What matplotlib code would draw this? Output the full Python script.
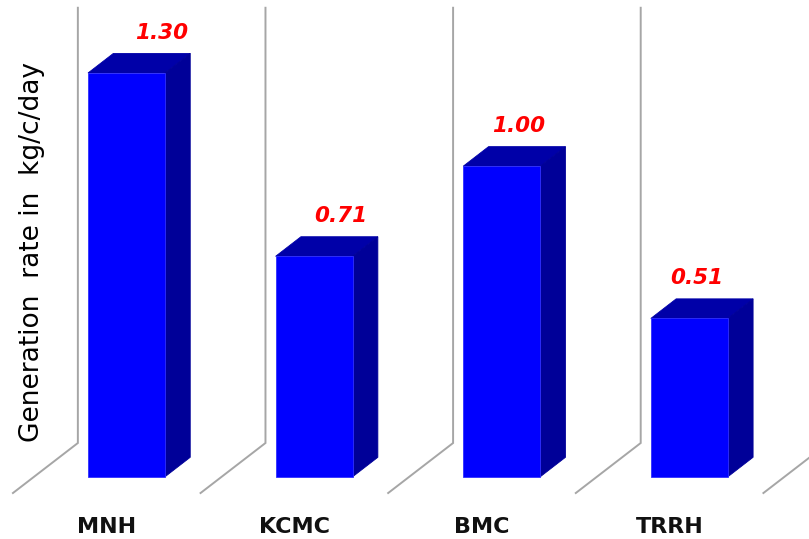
import numpy as np
import matplotlib.pyplot as plt
from matplotlib.patches import Polygon

hospitals = ['MNH', 'KCMC', 'BMC', 'TRRH']
rates = [1.30, 0.71, 1.00, 0.51]

# fake 3D: depth offset of the bars and the floor
depth_dx = 0.135
depth_dy = 0.063
bar_w = 0.41
front_col = '#0000ff'
top_col = '#0000a8'
side_col = '#000098'
grid_col = '#a6a6a6'

fig = plt.figure(figsize=(8.09, 5.39), dpi=100)
ax = fig.add_axes([0, 0, 1, 1])
ax.set_xlim(-0.674, 3.638)
ax.set_ylim(-0.200, 1.535)
ax.axis('off')

x = np.arange(len(hospitals))

# wall lines between categories, bending forward at the floor
for g in np.arange(len(hospitals) + 1) - 0.259:
    ax.plot([g, g, g - 0.346], [1.51, 0.109, -0.052],
            color=grid_col, lw=1.4, solid_joinstyle='miter', zorder=1)

bars = ax.bar(x, rates, width=bar_w, color=front_col,
              edgecolor='#3030ff', linewidth=0.6, zorder=3)

for i, (b, v) in enumerate(zip(bars, rates)):
    x0 = b.get_x()
    x1 = x0 + b.get_width()
    top = [(x0, v), (x0 + depth_dx, v + depth_dy),
           (x1 + depth_dx, v + depth_dy), (x1, v)]
    side = [(x1, 0), (x1, v), (x1 + depth_dx, v + depth_dy),
            (x1 + depth_dx, depth_dy)]
    ax.add_patch(Polygon(top, closed=True, fc=top_col, ec=top_col, lw=0.6, zorder=2))
    ax.add_patch(Polygon(side, closed=True, fc=side_col, ec=side_col, lw=0.6, zorder=2))
    ax.text(i + 0.19 - 0.05 * i, v + 0.13, f'{v:.2f}', color='#ff0000',
            fontsize=15.5, fontweight='bold', fontstyle='italic',
            ha='center', va='center', zorder=4)
    ax.text(i - 0.105, -0.161, hospitals[i], fontsize=16, fontweight='bold',
            ha='center', va='center', color='#111111')

ax.text(-0.505, 0.723, 'Generation  rate in  kg/c/day', rotation=90,
        fontsize=19, ha='center', va='center', color='#000000')

fig.savefig('out.png', dpi=100, facecolor='white')
